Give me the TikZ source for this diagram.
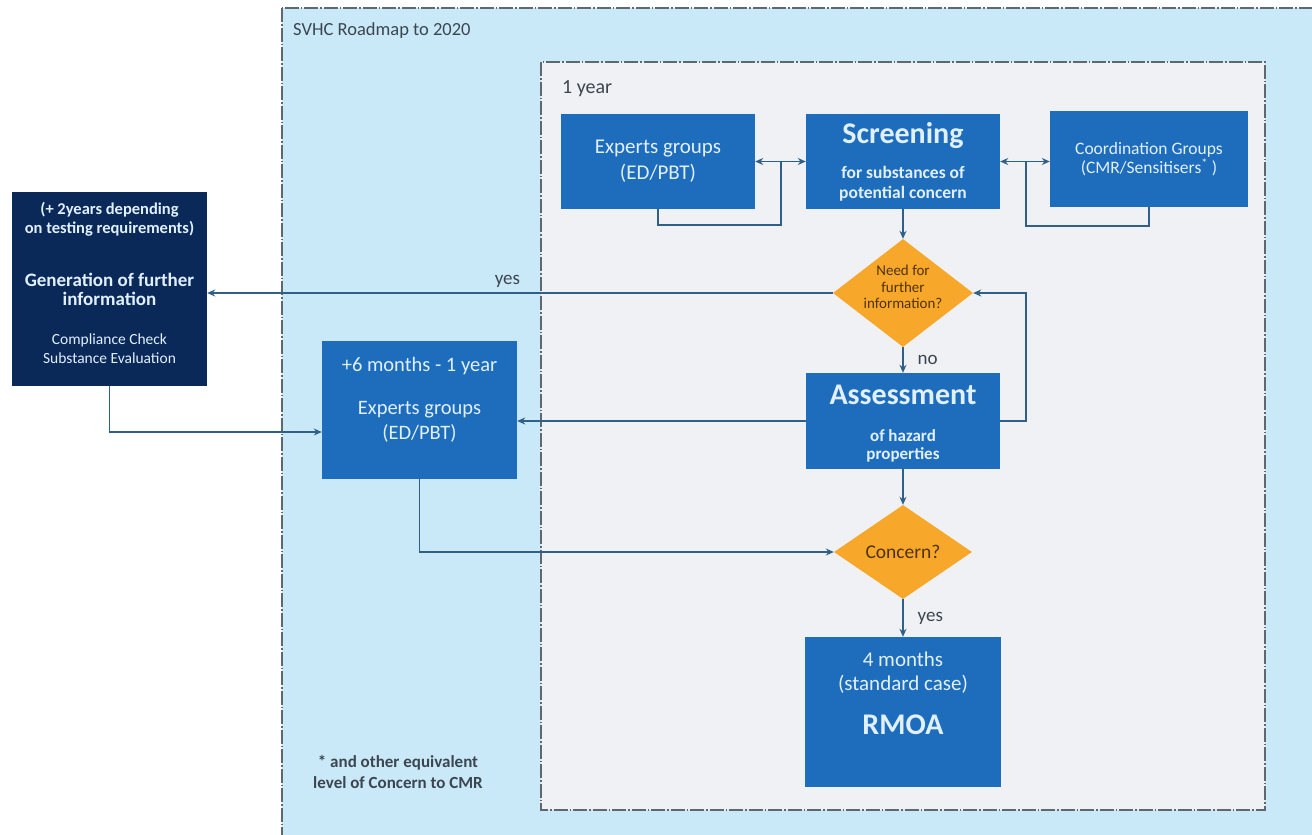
\documentclass[tikz,border=0pt]{standalone}
\usepackage{fontspec}
\setmainfont{Carlito}
\usetikzlibrary{shapes.geometric,arrows.meta,calc}
\definecolor{outerbg}{RGB}{201,233,249}
\definecolor{innerbg}{RGB}{240,241,244}
\definecolor{boxblue}{RGB}{30,108,188}
\definecolor{navy}{RGB}{10,40,88}
\definecolor{dorange}{RGB}{247,168,42}
\definecolor{conn}{RGB}{48,96,136}
\definecolor{frame}{RGB}{95,104,114}
\definecolor{lbl}{RGB}{60,70,80}
\definecolor{btext}{RGB}{225,240,255}
\definecolor{dtext}{RGB}{80,50,10}
\newcommand{\fs}[2]{\fontsize{#1}{#2}\selectfont}
\tikzset{
  bluebox/.style={draw=none,fill=boxblue,text=btext,align=center,inner sep=0pt,minimum width=#1},
  dec/.style={shape=diamond,fill=dorange,draw=none,inner sep=0pt},
  txt/.style={align=center,inner sep=0pt},
  conline/.style={draw=conn,line width=1.4pt},
  arr/.style={conline,-{Stealth[length=8pt,width=7pt]}},
  darr/.style={conline,{Stealth[length=8pt,width=7pt]}-{Stealth[length=8pt,width=7pt]}},
  frameline/.style={draw=frame,line width=1.3pt,dash pattern=on 14pt off 2pt on 1.5pt off 2pt},
  lab/.style={text=lbl,inner sep=0pt,font=\fs{19}{21}}
}
\begin{document}
\begin{tikzpicture}[x=1pt,y=-1pt]
\useasboundingbox (0,0) rectangle (1312,835);
\fill[white] (0,0) rectangle (1312,835);
% outer region
\begin{scope}
\clip (0,0) rectangle (1312,835);
\path[fill=outerbg,frameline] (282,8) rectangle (1330,850);
\end{scope}
\path[fill=innerbg,frameline] (541,62) rectangle (1265,810);
\node[lab,anchor=west,font=\fs{18.5}{20}] (title) at (293,31) {SVHC Roadmap to 2020};
\node[lab,anchor=west,font=\fs{20}{22}] (oneyear) at (562,89) {1 year};
\node[lab,align=center,font=\fs{17}{21}\bfseries] (foot) at (398,772) {* and other equivalent\\level of Concern to CMR};

% nodes
\node[bluebox=194pt,minimum height=95pt,font=\fs{21}{26}] (expT) at (658,161.5) {Experts groups\\(ED/PBT)};
\node[bluebox=194pt,minimum height=95pt] (scr) at (903,161.5) {};
\node[txt,text=btext,anchor=north,font=\fs{17.5}{20}\bfseries] (scrtxt) at ($(scr.north)+(0,8)$) {{\fs{30}{30}Screening}\\[15pt]for substances of\\potential concern};
\node[bluebox=198pt,minimum height=96pt,font=\fs{17.5}{19}] (coord) at (1149,159) {Coordination Groups\\(CMR/Sensitisers\textsuperscript{*} )};
\node[dec,minimum width=140pt,minimum height=108pt] (need) at (903,293) {};
\node[txt,text=dtext,font=\fs{15}{16.5}] (needtxt) at ($(need.center)+(0,-6)$) {Need for\\further\\information?};
\node[bluebox=194pt,minimum height=96pt] (ass) at (903,421) {};
\node[txt,text=btext,anchor=north,font=\fs{17}{18}\bfseries] (asstxt) at ($(ass.north)+(0,12)$) {{\fs{30}{30}Assessment}\\[19pt]of hazard\\properties};
\node[dec,minimum width=138pt,minimum height=94pt] (con) at (903,552) {};
\node[txt,text=dtext,font=\fs{19.5}{20}] (context) at (con.center) {Concern?};
\node[bluebox=196pt,minimum height=150pt] (rmoa) at (903,712) {};
\node[txt,text=btext,anchor=north,font=\fs{21}{24}] (rmoatxt) at ($(rmoa.north)+(0,15)$) {4 months\\(standard case)\\[20pt]{\fs{30}{30}\bfseries RMOA}};
\node[bluebox=195pt,minimum height=138pt] (expL) at (419.5,410) {};
\node[txt,text=btext,anchor=north,font=\fs{20.5}{25}] (expLtxt) at ($(expL.north)+(0,16)$) {+6 months - 1 year\\[18pt]Experts groups\\(ED/PBT)};
\node[fill=navy,minimum width=195pt,minimum height=194pt,inner sep=0pt] (gen) at (109.5,289) {};
\node[txt,text=btext,anchor=north,font=\fs{16.5}{19}\bfseries] (gentxt) at ($(gen.north)+(0,10)$) {(+ 2years depending\\on testing requirements)\\[34pt]{\fs{19}{22}Generation of further}\\{\fs{19}{22}information}\\[20pt]{\mdseries\fs{15.5}{17}Compliance Check}\\{\mdseries\fs{15.5}{17}Substance Evaluation}};

% connectors
\coordinate (j1) at (781,225);
\coordinate (j2) at (1026,226);
\coordinate (j3) at (1026,421);
\draw[darr] (expT.east) -- (scr.west);
\draw[conline] (expT.south) |- (j1) -- (j1 |- expT.east);
\draw[darr] (scr.east) -- (scr.east -| coord.west);
\draw[conline] (coord.south) |- (j2) -- (j2 |- scr.east);
\draw[arr] (scr.south) -- (need.north);
\draw[arr] (need.west) -- (need.west -| gen.east) node[pos=0.52,above=5pt,lab] {yes};
\draw[arr] (need.south) -- (ass.north) node[midway,right=14pt,lab] {no};
\draw[arr] (ass.east) -- (j3) |- (need.east);
\draw[arr] (ass.west) -- (ass.west -| expL.east);
\draw[arr] (gen.south) |- ($(expL.west)+(0,22)$);
\draw[arr] (expL.south) |- (con.west);
\draw[arr] (ass.south) -- (con.north);
\draw[arr] (con.south) -- (rmoa.north) node[midway,right=14pt,lab] {yes};
\end{tikzpicture}
\end{document}
